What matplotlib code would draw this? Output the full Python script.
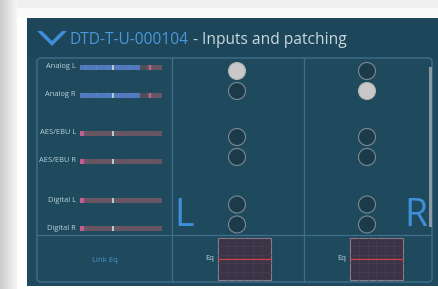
import matplotlib
matplotlib.use("Agg")
import matplotlib.pyplot as plt
from matplotlib.patches import Rectangle, Circle, FancyBboxPatch, Polygon
import numpy as np

# ---- data ----
title_id = "DTD-T-U-000104"
title_rest = " - Inputs and patching"
channels = ["Analog L", "Analog R", "AES/EBU L", "AES/EBU R", "Digital L", "Digital R"]
levels = [0.73, 0.73, 0.05, 0.05, 0.05, 0.05]        # meter fill fraction
marks = [0.40, 0.40, 0.40, 0.40, 0.40, 0.40]         # marker position
peaks = [0.85, 0.85, None, None, None, None]         # peak marker
patch_L = [1, 0, 0, 0, 0, 0]
patch_R = [0, 1, 0, 0, 0, 0]
link_label = "Link Eq"
eq_label = "Eq"
side_labels = ["L", "R"]

W, H = 439, 289
fig = plt.figure(figsize=(W / 100, H / 100), dpi=100)
ax = fig.add_axes([0, 0, 1, 1])
ax.set_xlim(0, W)
ax.set_ylim(H, 0)
ax.axis("off")
fig.patch.set_facecolor("white")

# shadow on left
for i in range(17):
    g = 0.80 + 0.17 * (i / 17)
    ax.add_patch(Rectangle((i, 0), 1, H, color=(g, g, g), lw=0))
ax.add_patch(Rectangle((17, 0), W, 17, color="#f0f0f0", lw=0))
ax.add_patch(Rectangle((17, 8), W, 9, color="#fafafa", lw=0))

# main panel
panel = "#1f4a5e"
ax.add_patch(Rectangle((27, 18), W - 27, 268, color=panel, lw=0))
ax.add_patch(Rectangle((27, 18), W - 27, 40, color="#1d465a", lw=0))

# chevron
ax.add_patch(Polygon([[37, 31], [42, 31], [52, 41], [62, 31], [67, 31], [52, 46]],
                     closed=True, color="#3f8fd8", lw=0))
t1 = ax.text(70, 40, title_id, color="#4a98dc", fontsize=11.2, va="center", ha="left",
             family="Open Sans")
fig.canvas.draw()
bb = t1.get_window_extent()
x2 = bb.x1
ax.text(x2, 40, title_rest, color="#c9d7df", fontsize=11.2, va="center", ha="left",
        family="Open Sans")

# inner frame
frame_col = "#3f6f88"
ax.add_patch(FancyBboxPatch((37, 58), 395, 224, boxstyle="round,pad=0,rounding_size=4",
                            fill=False, ec=frame_col, lw=1))
ax.plot([172, 172], [58, 282], color=frame_col, lw=0.9)
ax.plot([304, 304], [58, 282], color=frame_col, lw=0.9)
ax.plot([37, 432], [235, 235], color=frame_col, lw=0.9)

# scrollbar
ax.add_patch(Rectangle((429, 67), 3, 160, color="#8a9aa2", lw=0))

# meters
group_centers = [81, 147, 214.5]
mx0, mx1, mh = 80, 162, 5
for i, name in enumerate(channels):
    gc = group_centers[i // 2]
    y = gc - 14 if i % 2 == 0 else gc + 14
    ax.text(76, y, name, color="#b9d2dc", fontsize=5.4, ha="right", va="center",
            family="Open Sans")
    L = mx1 - mx0
    ax.add_patch(Rectangle((mx0, y - mh / 2), L, mh, color="#6c5866", lw=0))
    # segment ticks
    for s in np.arange(mx0, mx1, 2.2):
        ax.plot([s, s], [y - mh / 2, y + mh / 2], color="#5a4a56", lw=0.3)
    fill = levels[i]
    if fill > 0.2:
        ax.add_patch(Rectangle((mx0, y - mh / 2), L * fill, mh, color="#4f86d6", lw=0))
        ax.add_patch(Rectangle((mx0 + L * fill, y - mh / 2), 7, mh, color="#4e4e5a", lw=0))
    else:
        ax.add_patch(Rectangle((mx0, y - mh / 2), L * fill, mh, color="#e061a8", lw=0))
    ax.add_patch(Rectangle((mx0 + L * marks[i] - 1, y - mh / 2), 2, mh, color="#c9f0f2", lw=0))
    if peaks[i] is not None:
        ax.add_patch(Rectangle((mx0 + L * peaks[i] - 1, y - mh / 2), 2, mh, color="#e868a8", lw=0))

# patch circles
cols = [(237, patch_L), (367, patch_R)]
for cx, states in cols:
    for i, s in enumerate(states):
        gc = group_centers[i // 2]
        cy = gc - 10 if i % 2 == 0 else gc + 10
        if s:
            ax.add_patch(Circle((cx, cy), 8.5, fc="#c8c8c8", ec="#b0b0b0", lw=0.8))
        else:
            ax.add_patch(Circle((cx, cy), 8.5, fc="#1b3b4b", ec="#7b8a90", lw=0.8))

# big L / R
ax.text(174, 226, side_labels[0], color="#3f8fd8", fontsize=27, ha="left", va="baseline",
        family="Open Sans")
ax.text(404, 226, side_labels[1], color="#3f8fd8", fontsize=27, ha="left", va="baseline",
        family="Open Sans")

# link eq
ax.text(105, 260, link_label, color="#4e8fcf", fontsize=5.6, ha="center", va="center",
        family="Open Sans")

# eq boxes
for bx in (218, 350):
    ax.add_patch(Rectangle((bx, 238), 53, 42, fc="#3a3446", ec="#8a7a88", lw=0.8))
    for gx in np.linspace(bx, bx + 53, 7)[1:-1]:
        ax.plot([gx, gx], [238, 280], color="#4a3f52", lw=0.5)
    for gy in np.linspace(238, 280, 6)[1:-1]:
        ax.plot([bx, bx + 53], [gy, gy], color="#4a3f52", lw=0.5)
    ax.plot([bx, bx + 53], [259, 259], color="#d0404a", lw=0.9)
    ax.text(bx - 4, 259, eq_label, color="#b9d2dc", fontsize=5.6, ha="right", va="center",
            family="Open Sans")

fig.savefig("out.png", dpi=100)
